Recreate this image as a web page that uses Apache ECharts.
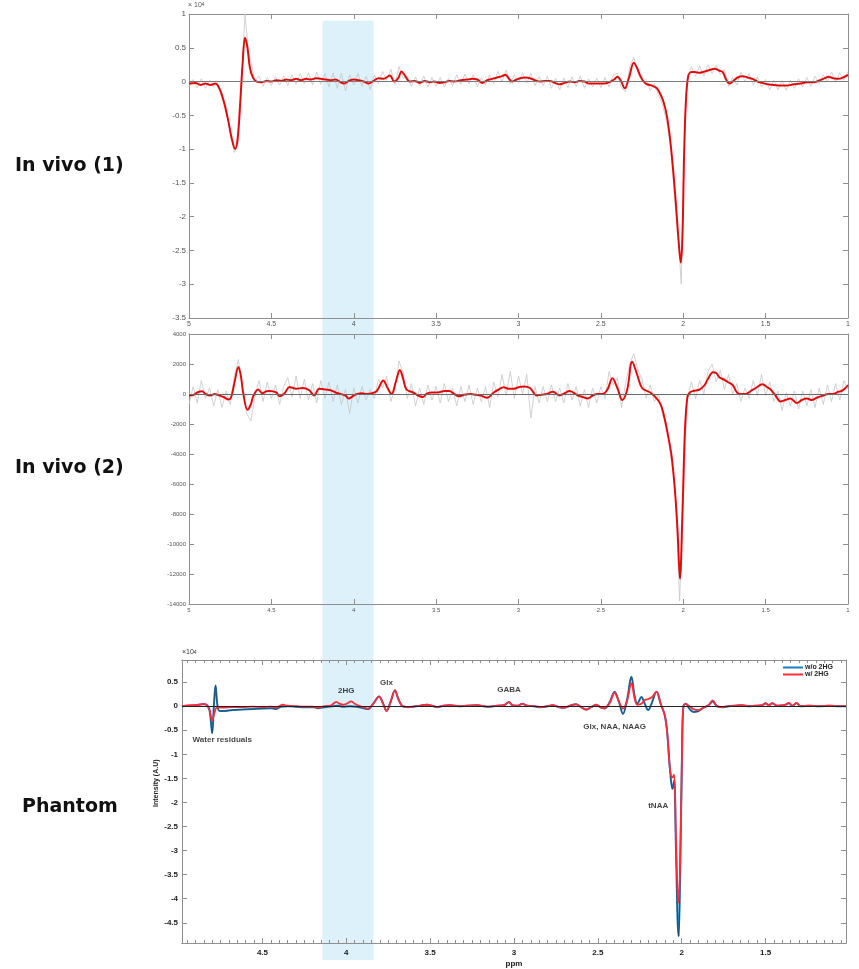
<!DOCTYPE html>
<html><head><meta charset="utf-8">
<script src="https://cdn.jsdelivr.net/npm/echarts@6/dist/echarts.min.js"></script>
<style>html,body{margin:0;padding:0;background:#fff}#c{width:859px;height:969px}</style>
</head><body><div id="c"></div>
<script>
// ---------------- DATA ----------------
const panelLabels = ['In vivo (1)', 'In vivo (2)', 'Phantom'];
const legendNames = ['w/o 2HG', 'w/ 2HG'];
const ppmTickLabels = [4.5, 4, 3.5, 3, 2.5, 2, 1.5];
const phantomYTicks = [0.5, 0, -0.5, -1, -1.5, -2, -2.5, -3, -3.5, -4, -4.5];
const bandPpm = [4.19, 3.88];   // shaded 2HG band (in top-panel ppm)

// In vivo (1), x10^4 : fitted (red) spectrum
const vivo1Fit = [[5.00,-0.03],[4.96,-0.02],[4.93,-0.05],[4.90,-0.03],[4.87,-0.05],[4.84,-0.03],[4.82,-0.08],[4.80,-0.2],[4.78,-0.38],[4.76,-0.6],[4.74,-0.85],[4.72,-1.0],[4.705,-0.85],[4.69,-0.35],[4.675,0.25],[4.66,0.65],[4.645,0.5],[4.63,0.2],[4.61,0.05],[4.59,0.0],[4.56,-0.01],[4.53,0.01],[4.50,0.0],[4.47,0.02],[4.44,0.01],[4.41,0.03],[4.38,0.02],[4.35,0.04],[4.32,0.02],[4.29,0.04],[4.26,0.03],[4.23,0.05],[4.20,0.04],[4.17,0.03],[4.14,0.02],[4.11,0.03],[4.08,-0.01],[4.06,-0.03],[4.03,0.01],[4.00,0.03],[3.97,0.02],[3.94,0.0],[3.91,-0.03],[3.88,0.01],[3.85,0.05],[3.82,0.04],[3.78,0.09],[3.755,0.0],[3.73,0.05],[3.71,0.15],[3.69,0.09],[3.66,0.0],[3.63,0.01],[3.60,-0.02],[3.57,0.01],[3.54,-0.01],[3.51,0.0],[3.48,-0.02],[3.45,-0.01],[3.42,0.01],[3.39,0.0],[3.35,0.02],[3.31,0.03],[3.28,0.04],[3.25,0.03],[3.22,-0.02],[3.19,0.02],[3.16,0.04],[3.13,0.06],[3.10,0.08],[3.08,0.1],[3.06,0.05],[3.04,0.0],[3.02,0.02],[2.99,0.05],[2.96,0.06],[2.93,0.05],[2.90,0.02],[2.87,0.0],[2.84,0.01],[2.81,0.01],[2.78,-0.02],[2.75,-0.04],[2.72,-0.02],[2.69,0.0],[2.66,-0.01],[2.63,0.01],[2.60,0.0],[2.57,-0.03],[2.54,-0.03],[2.51,-0.03],[2.48,-0.03],[2.45,-0.01],[2.42,0.03],[2.40,0.07],[2.38,0.02],[2.355,-0.1],[2.33,0.05],[2.30,0.28],[2.28,0.2],[2.26,0.08],[2.24,0.0],[2.22,-0.04],[2.19,-0.06],[2.16,-0.1],[2.14,-0.18],[2.12,-0.3],[2.10,-0.5],[2.08,-0.85],[2.06,-1.35],[2.045,-1.8],[2.03,-2.3],[2.015,-2.68],[2.005,-2.3],[1.995,-1.1],[1.985,-0.35],[1.97,0.08],[1.95,0.14],[1.93,0.14],[1.90,0.13],[1.87,0.15],[1.84,0.17],[1.81,0.19],[1.78,0.16],[1.76,0.14],[1.74,0.03],[1.72,-0.03],[1.70,0.0],[1.67,0.06],[1.64,0.08],[1.61,0.06],[1.58,0.04],[1.55,0.0],[1.52,-0.02],[1.49,-0.04],[1.45,-0.05],[1.41,-0.06],[1.37,-0.06],[1.33,-0.04],[1.29,-0.03],[1.25,-0.01],[1.21,-0.01],[1.17,0.02],[1.14,0.05],[1.12,0.07],[1.09,0.05],[1.06,0.04],[1.03,0.06],[1.00,0.1]];

// In vivo (1), x10^4 : raw (grey) spectrum
const vivo1Raw = [[5.000,-0.08],[4.975,0.03],[4.950,-0.09],[4.925,0.04],[4.900,-0.1],[4.875,0.02],[4.850,-0.08],[4.825,-0.02],[4.800,-0.25],[4.775,-0.35],[4.750,-0.75],[4.725,-1.05],[4.700,-0.9],[4.675,0.3],[4.660,1.0],[4.640,0.45],[4.625,0.3],[4.600,0.0],[4.575,0.08],[4.550,-0.07],[4.525,0.06],[4.500,-0.06],[4.475,0.07],[4.450,-0.05],[4.425,0.08],[4.400,-0.06],[4.375,0.1],[4.350,-0.04],[4.325,0.12],[4.300,-0.03],[4.275,0.13],[4.250,-0.05],[4.225,0.14],[4.200,-0.04],[4.175,0.12],[4.150,-0.08],[4.125,0.13],[4.100,-0.1],[4.075,0.12],[4.050,-0.14],[4.025,0.1],[4.000,-0.05],[3.975,0.12],[3.950,-0.07],[3.925,0.08],[3.900,-0.12],[3.875,0.1],[3.850,-0.03],[3.825,0.15],[3.800,0.02],[3.775,0.18],[3.750,-0.03],[3.725,0.22],[3.700,0.05],[3.675,0.08],[3.650,-0.07],[3.625,0.07],[3.600,-0.06],[3.575,0.08],[3.550,-0.08],[3.525,0.06],[3.500,-0.07],[3.475,0.06],[3.450,-0.08],[3.425,0.05],[3.400,-0.06],[3.375,0.1],[3.350,-0.04],[3.325,0.11],[3.300,-0.03],[3.275,0.1],[3.250,-0.08],[3.225,0.06],[3.200,-0.05],[3.175,0.1],[3.150,-0.03],[3.125,0.15],[3.100,0.0],[3.075,0.17],[3.050,-0.03],[3.025,0.1],[3.000,-0.02],[2.975,0.13],[2.950,-0.02],[2.925,0.12],[2.900,-0.06],[2.875,0.07],[2.850,-0.06],[2.825,0.08],[2.800,-0.1],[2.775,0.05],[2.750,-0.12],[2.725,0.05],[2.700,-0.09],[2.675,0.07],[2.650,-0.07],[2.625,0.08],[2.600,-0.1],[2.575,0.04],[2.550,-0.08],[2.525,0.05],[2.500,-0.09],[2.475,0.06],[2.450,-0.08],[2.425,0.1],[2.400,0.12],[2.375,-0.1],[2.350,-0.15],[2.325,0.22],[2.300,0.36],[2.275,0.13],[2.250,0.0],[2.225,0.03],[2.200,-0.13],[2.175,-0.03],[2.150,-0.2],[2.125,-0.35],[2.100,-0.6],[2.075,-1.0],[2.050,-1.8],[2.025,-2.5],[2.012,-3.0],[2.000,-1.6],[1.985,-0.4],[1.975,0.05],[1.950,0.22],[1.925,0.08],[1.900,0.23],[1.875,0.08],[1.850,0.25],[1.825,0.12],[1.800,0.24],[1.775,0.1],[1.750,0.18],[1.725,-0.07],[1.700,0.06],[1.675,-0.05],[1.650,0.14],[1.625,0.0],[1.600,0.12],[1.575,-0.05],[1.550,0.07],[1.525,-0.08],[1.500,0.03],[1.475,-0.12],[1.450,0.02],[1.425,-0.12],[1.400,0.01],[1.375,-0.13],[1.350,0.02],[1.325,-0.1],[1.300,0.04],[1.275,-0.08],[1.250,0.06],[1.225,-0.07],[1.200,0.08],[1.175,-0.03],[1.150,0.1],[1.125,0.0],[1.100,0.14],[1.075,-0.01],[1.050,0.13],[1.025,0.02],[1.000,0.15]];

// In vivo (2) : fitted (red) spectrum
const vivo2Fit = [[5.00,-100],[4.97,-50],[4.95,100],[4.92,180],[4.90,0],[4.87,-100],[4.845,0],[4.82,-80],[4.79,-200],[4.76,-370],[4.745,-250],[4.725,700],[4.70,1800],[4.685,1200],[4.67,0],[4.645,-1050],[4.625,-700],[4.61,-150],[4.58,300],[4.555,50],[4.53,180],[4.51,200],[4.47,100],[4.45,-150],[4.42,50],[4.39,470],[4.35,350],[4.31,400],[4.27,250],[4.24,-100],[4.21,350],[4.17,300],[4.14,250],[4.11,100],[4.08,0],[4.05,-100],[4.03,-300],[4.00,-100],[3.98,0],[3.95,50],[3.92,0],[3.89,50],[3.86,200],[3.82,900],[3.795,400],[3.77,0],[3.745,800],[3.72,1600],[3.70,1000],[3.68,300],[3.64,100],[3.61,-100],[3.58,-200],[3.56,0],[3.53,100],[3.49,100],[3.45,200],[3.42,200],[3.39,0],[3.36,-150],[3.33,-50],[3.29,0],[3.26,-50],[3.23,-100],[3.19,-250],[3.15,100],[3.12,300],[3.09,450],[3.06,350],[3.03,350],[3.00,450],[2.97,500],[2.93,400],[2.89,-100],[2.86,-50],[2.83,0],[2.79,150],[2.75,-100],[2.72,50],[2.69,200],[2.64,-100],[2.61,-200],[2.58,-300],[2.55,-100],[2.52,0],[2.49,0],[2.46,300],[2.43,1050],[2.40,400],[2.37,-400],[2.34,300],[2.31,2150],[2.28,1300],[2.25,400],[2.20,100],[2.17,-200],[2.15,-450],[2.13,-900],[2.11,-1800],[2.09,-2900],[2.07,-4200],[2.05,-6500],[2.035,-9000],[2.02,-12300],[2.005,-8000],[1.99,-2500],[1.975,-200],[1.96,100],[1.94,200],[1.90,300],[1.87,600],[1.85,1000],[1.82,1450],[1.80,1400],[1.78,1100],[1.76,1000],[1.73,800],[1.70,600],[1.68,200],[1.66,0],[1.62,0],[1.59,200],[1.56,400],[1.52,650],[1.49,450],[1.47,300],[1.44,-100],[1.41,-500],[1.38,-400],[1.35,-300],[1.31,-600],[1.28,-400],[1.25,-300],[1.22,-400],[1.19,-250],[1.15,-100],[1.12,0],[1.09,0],[1.06,150],[1.04,200],[1.02,350],[1.00,600]];

// In vivo (2) : raw (grey) spectrum
const vivo2Raw = [[5.000,-700],[4.975,500],[4.950,-600],[4.925,900],[4.900,-300],[4.875,400],[4.850,-800],[4.825,300],[4.800,-900],[4.775,200],[4.750,-700],[4.725,1200],[4.700,2300],[4.675,400],[4.650,-1300],[4.625,-1800],[4.600,-200],[4.575,900],[4.550,-500],[4.525,800],[4.500,-300],[4.475,600],[4.450,-700],[4.425,500],[4.400,1100],[4.375,-200],[4.350,1200],[4.325,-300],[4.300,1000],[4.275,-400],[4.250,700],[4.225,-600],[4.200,900],[4.175,-300],[4.150,800],[4.125,-500],[4.100,600],[4.075,-700],[4.050,300],[4.025,-1300],[4.000,400],[3.975,-600],[3.950,500],[3.925,-400],[3.900,300],[3.875,-300],[3.850,1000],[3.825,400],[3.800,1200],[3.775,-500],[3.750,300],[3.725,2200],[3.700,1400],[3.675,-300],[3.650,700],[3.625,-800],[3.600,400],[3.575,-700],[3.550,600],[3.525,-400],[3.500,500],[3.475,-600],[3.450,700],[3.425,-500],[3.400,400],[3.375,-800],[3.350,500],[3.325,-500],[3.300,600],[3.275,-700],[3.250,400],[3.225,-500],[3.200,500],[3.175,-900],[3.150,800],[3.125,-200],[3.100,1300],[3.075,-100],[3.050,1500],[3.025,-300],[3.000,1200],[2.975,0],[2.950,1300],[2.925,-1600],[2.900,500],[2.875,-600],[2.850,500],[2.825,-500],[2.800,600],[2.775,-500],[2.750,400],[2.725,-600],[2.700,700],[2.675,-400],[2.650,500],[2.625,-800],[2.600,300],[2.575,-900],[2.550,400],[2.525,-600],[2.500,500],[2.475,-300],[2.450,1500],[2.425,600],[2.400,1100],[2.375,-900],[2.350,700],[2.325,2000],[2.300,2700],[2.275,1600],[2.250,1000],[2.225,-300],[2.200,600],[2.175,-500],[2.150,0],[2.125,-1400],[2.100,-2000],[2.075,-4300],[2.050,-6000],[2.022,-13800],[2.000,-7000],[1.975,-300],[1.950,800],[1.925,-300],[1.900,900],[1.875,0],[1.850,1500],[1.825,2000],[1.800,800],[1.775,1600],[1.750,300],[1.725,1300],[1.700,0],[1.675,700],[1.650,-500],[1.625,400],[1.600,-300],[1.575,900],[1.550,-100],[1.525,1300],[1.500,-100],[1.475,800],[1.450,-500],[1.425,200],[1.400,-1100],[1.375,100],[1.350,-800],[1.325,200],[1.300,-1000],[1.275,200],[1.250,-800],[1.225,300],[1.200,-900],[1.175,400],[1.150,-700],[1.125,600],[1.100,-500],[1.075,700],[1.050,-400],[1.025,900],[1.000,300]];

// Phantom, x10^4 : without 2HG (blue)
const phantomWo = [[4.98,0.0],[4.93,0.01],[4.88,0.03],[4.85,0.04],[4.83,0.02],[4.815,-0.1],[4.80,-0.56],[4.79,0.0],[4.78,0.43],[4.768,0.0],[4.755,-0.1],[4.73,-0.1],[4.68,-0.08],[4.62,-0.07],[4.56,-0.06],[4.50,-0.05],[4.45,-0.04],[4.42,-0.06],[4.39,-0.01],[4.35,0.0],[4.30,-0.01],[4.25,-0.02],[4.20,-0.02],[4.17,-0.04],[4.13,-0.02],[4.08,0.0],[4.05,0.01],[4.02,-0.01],[3.98,0.0],[3.94,-0.01],[3.90,-0.04],[3.87,-0.06],[3.84,0.05],[3.805,0.2],[3.78,0.05],[3.76,-0.1],[3.735,0.1],[3.71,0.33],[3.69,0.15],[3.665,0.0],[3.63,-0.02],[3.60,-0.01],[3.56,0.01],[3.52,0.03],[3.48,0.0],[3.46,-0.02],[3.42,0.01],[3.38,0.02],[3.33,0.0],[3.28,0.01],[3.22,0.02],[3.16,-0.01],[3.10,0.01],[3.06,0.02],[3.03,0.08],[3.01,0.02],[2.98,0.01],[2.95,0.05],[2.92,0.01],[2.88,0.0],[2.84,-0.02],[2.80,0.0],[2.77,0.02],[2.73,-0.02],[2.70,-0.03],[2.66,0.02],[2.63,0.04],[2.60,-0.02],[2.57,-0.07],[2.54,-0.02],[2.51,0.03],[2.48,-0.03],[2.46,-0.05],[2.43,0.08],[2.40,0.3],[2.375,0.1],[2.35,-0.16],[2.325,0.15],[2.30,0.61],[2.28,0.2],[2.265,0.05],[2.24,0.19],[2.22,0.05],[2.20,-0.08],[2.18,0.05],[2.15,0.3],[2.125,0.05],[2.10,-0.2],[2.085,-0.6],[2.07,-1.3],[2.055,-1.72],[2.045,-1.55],[2.035,-2.8],[2.025,-4.4],[2.018,-4.78],[2.008,-3.2],[1.998,-1.0],[1.99,0.0],[1.975,0.05],[1.955,-0.05],[1.93,-0.12],[1.90,-0.1],[1.87,-0.03],[1.84,0.02],[1.815,0.1],[1.79,0.0],[1.76,-0.02],[1.72,0.0],[1.68,0.01],[1.64,0.02],[1.60,0.0],[1.56,0.01],[1.52,0.02],[1.50,0.06],[1.48,0.02],[1.46,0.06],[1.43,0.01],[1.39,0.02],[1.36,0.06],[1.34,0.01],[1.315,0.06],[1.29,0.0],[1.24,0.01],[1.18,0.0],[1.12,0.01],[1.06,0.0],[1.02,0.0]];

// Phantom, x10^4 : with 2HG (red)
const phantomW = [[4.98,0.0],[4.93,0.02],[4.88,0.03],[4.85,0.05],[4.83,0.02],[4.815,-0.08],[4.80,-0.3],[4.785,-0.12],[4.77,-0.02],[4.74,-0.03],[4.68,-0.02],[4.62,-0.02],[4.56,-0.01],[4.50,-0.02],[4.45,-0.01],[4.42,-0.03],[4.38,0.03],[4.35,0.01],[4.30,0.0],[4.25,-0.01],[4.20,-0.01],[4.17,-0.03],[4.13,0.0],[4.09,0.02],[4.06,0.09],[4.04,0.05],[4.02,0.03],[4.00,0.05],[3.97,0.1],[3.95,0.05],[3.92,0.0],[3.89,-0.03],[3.87,-0.05],[3.84,0.05],[3.805,0.2],[3.78,0.05],[3.76,-0.1],[3.735,0.1],[3.71,0.33],[3.69,0.15],[3.665,0.0],[3.63,-0.02],[3.60,-0.01],[3.56,0.01],[3.52,0.03],[3.48,0.0],[3.46,-0.02],[3.42,0.01],[3.38,0.02],[3.33,0.0],[3.28,0.01],[3.22,0.02],[3.16,-0.01],[3.10,0.01],[3.06,0.02],[3.03,0.09],[3.01,0.02],[2.98,0.01],[2.95,0.05],[2.92,0.01],[2.88,0.0],[2.84,-0.02],[2.80,0.0],[2.77,0.02],[2.73,-0.02],[2.70,-0.03],[2.66,0.02],[2.63,0.04],[2.60,-0.02],[2.57,-0.07],[2.54,-0.02],[2.51,0.03],[2.48,-0.03],[2.46,-0.04],[2.43,0.06],[2.40,0.28],[2.375,0.1],[2.35,-0.05],[2.325,0.12],[2.30,0.48],[2.28,0.15],[2.265,0.03],[2.24,0.05],[2.22,0.13],[2.20,0.15],[2.18,0.18],[2.15,0.3],[2.125,0.05],[2.10,-0.2],[2.085,-0.6],[2.07,-1.3],[2.055,-1.48],[2.045,-1.42],[2.035,-2.6],[2.025,-3.8],[2.018,-4.08],[2.008,-3.0],[1.998,-1.0],[1.99,0.0],[1.975,0.05],[1.955,0.0],[1.93,-0.06],[1.90,-0.08],[1.87,-0.03],[1.84,0.02],[1.815,0.12],[1.79,0.0],[1.76,-0.02],[1.72,0.0],[1.68,0.01],[1.64,0.02],[1.60,0.0],[1.56,0.01],[1.52,0.02],[1.50,0.06],[1.48,0.02],[1.46,0.06],[1.43,0.01],[1.39,0.02],[1.36,0.07],[1.34,0.01],[1.315,0.07],[1.29,0.0],[1.24,0.01],[1.18,0.0],[1.12,0.01],[1.06,0.0],[1.02,0.0]];

// Phantom annotations: [ppm, value(x10^4), text]
const phantomNotes = [[4.74,-0.69,'Water residuals'],[4.00,0.33,'2HG'],[3.76,0.49,'Glx'],[3.03,0.35,'GABA'],[2.40,-0.43,'Glx, NAA, NAAG'],[2.14,-2.06,'tNAA']];
const phantomYName = ['Intensity (A.U)', -1.6];   // axis title and its centre value

// ---------------- CHART ----------------
const chart = echarts.init(document.getElementById('c'), null, {renderer: 'canvas'});
const AX = '#8f8f8f';
const FONT = 'Liberation Sans, Arial, sans-serif';

function boxX(grid, pos, min, max, opts) {
  return Object.assign({
    type: 'value', gridIndex: grid, position: pos, inverse: true, min: min, max: max,
    axisLine: {show: true, onZero: false, lineStyle: {color: AX, width: 1}},
    axisTick: {show: true, inside: true, length: 5, lineStyle: {color: AX}},
    axisLabel: {show: false},
    splitLine: {show: false}
  }, opts || {});
}
function boxY(grid, pos, min, max, opts) {
  return Object.assign({
    type: 'value', gridIndex: grid, position: pos, min: min, max: max,
    axisLine: {show: true, onZero: false, lineStyle: {color: AX, width: 1}},
    axisTick: {show: true, inside: true, length: 5, lineStyle: {color: AX}},
    axisLabel: {show: false},
    splitLine: {show: false}
  }, opts || {});
}
const minorPpm = [];
for (let v = 1.05; v < 4.98; v += 0.05) minorPpm.push(Math.round(v * 100) / 100);

const zeroLine = (color) => ({silent: true, symbol: 'none', label: {show: false},
  lineStyle: {color: color, width: 1, type: 'solid'}, data: [{yAxis: 0}]});
const plain = v => String(v);

const option = {
  animation: false,
  backgroundColor: '#fff',
  grid: [
    {left: 189, top: 14, width: 659, height: 304},
    {left: 189, top: 334, width: 659, height: 270},
    {left: 182, top: 660, width: 664, height: 288}
  ],
  xAxis: [
    boxX(0, 'bottom', 1, 5, {interval: 0.5, axisLabel: {show: true, formatter: plain, color: '#555', fontSize: 7, fontFamily: FONT, margin: 3}}),
    boxX(0, 'top', 1, 5, {interval: 0.5}),
    boxX(1, 'bottom', 1, 5, {interval: 0.5, axisLabel: {show: true, formatter: plain, color: '#555', fontSize: 6, fontFamily: FONT, margin: 3}}),
    boxX(1, 'top', 1, 5, {interval: 0.5}),
    boxX(2, 'bottom', 1.02, 4.98, {axisTick: {show: true, inside: true, length: 5, customValues: ppmTickLabels, lineStyle: {color: AX}},
      axisLabel: {show: true, customValues: ppmTickLabels, formatter: plain, color: '#222', fontSize: 8, fontWeight: 'bold', fontFamily: FONT, margin: 6},
      name: 'ppm', nameLocation: 'middle', nameGap: 17, nameTextStyle: {color: '#222', fontSize: 8, fontWeight: 'bold', fontFamily: FONT}}),
    boxX(2, 'bottom', 1.02, 4.98, {axisTick: {show: true, inside: true, length: 3, customValues: minorPpm, lineStyle: {color: AX}}}),
    boxX(2, 'top', 1.02, 4.98, {axisTick: {show: true, inside: true, length: 5, customValues: ppmTickLabels, lineStyle: {color: AX}}}),
    boxX(2, 'top', 1.02, 4.98, {axisTick: {show: true, inside: true, length: 3, customValues: minorPpm, lineStyle: {color: AX}}})
  ],
  yAxis: [
    boxY(0, 'left', -3.5, 1, {interval: 0.5, axisLabel: {show: true, formatter: plain, color: '#555', fontSize: 8, fontFamily: FONT, margin: 3}}),
    boxY(0, 'right', -3.5, 1, {interval: 0.5}),
    boxY(1, 'left', -14000, 4000, {interval: 2000, axisLabel: {show: true, formatter: plain, color: '#555', fontSize: 6, fontFamily: FONT, margin: 3}}),
    boxY(1, 'right', -14000, 4000, {interval: 2000}),
    boxY(2, 'left', -4.92, 0.96, {axisTick: {show: true, inside: true, length: 5, customValues: phantomYTicks, lineStyle: {color: AX}},
      axisLabel: {show: true, customValues: phantomYTicks, formatter: plain, color: '#222', fontSize: 8, fontWeight: 'bold', fontFamily: FONT, margin: 4}}),
    boxY(2, 'right', -4.92, 0.96, {axisTick: {show: true, inside: true, length: 5, customValues: phantomYTicks, lineStyle: {color: AX}}})
  ],
  legend: {
    left: 778, top: 659, orient: 'vertical', itemWidth: 20, itemHeight: 2, itemGap: 0,
    icon: 'rect', data: legendNames, selectedMode: false,
    textStyle: {fontSize: 7, fontWeight: 'bold', color: '#222', fontFamily: FONT, padding: [0, 0, 0, -3]}
  },
  series: [
    {name: 'raw1', type: 'line', xAxisIndex: 0, yAxisIndex: 0, data: vivo1Raw, symbol: 'none',
      lineStyle: {color: '#c6c6c6', width: 0.8}, z: 2, markLine: zeroLine('#7a7a7a')},
    {name: 'fit1', type: 'line', xAxisIndex: 0, yAxisIndex: 0, data: vivo1Fit, symbol: 'none', smooth: 0.35,
      lineStyle: {color: '#ff1010', width: 2}, z: 3},
    {name: 'fit1b', type: 'line', xAxisIndex: 0, yAxisIndex: 0, data: vivo1Fit, symbol: 'none', smooth: 0.35,
      lineStyle: {color: 'rgba(70,0,0,0.45)', width: 0.6}, z: 4},
    {name: 'raw2', type: 'line', xAxisIndex: 2, yAxisIndex: 2, data: vivo2Raw, symbol: 'none',
      lineStyle: {color: '#c6c6c6', width: 0.8}, z: 2, markLine: zeroLine('#6a6a6a')},
    {name: 'fit2', type: 'line', xAxisIndex: 2, yAxisIndex: 2, data: vivo2Fit, symbol: 'none', smooth: 0.35,
      lineStyle: {color: '#ff1010', width: 2}, z: 3},
    {name: 'fit2b', type: 'line', xAxisIndex: 2, yAxisIndex: 2, data: vivo2Fit, symbol: 'none', smooth: 0.35,
      lineStyle: {color: 'rgba(70,0,0,0.45)', width: 0.6}, z: 4},
    {name: legendNames[0], type: 'line', xAxisIndex: 4, yAxisIndex: 4, data: phantomWo, symbol: 'none', smooth: 0.35,
      color: '#1a7fc4', lineStyle: {color: '#1a7fc4', width: 2}, z: 3, markLine: zeroLine('#222')},
    {name: 'woDark', type: 'line', xAxisIndex: 4, yAxisIndex: 4, data: phantomWo, symbol: 'none', smooth: 0.35,
      lineStyle: {color: 'rgba(40,40,40,0.7)', width: 0.8}, z: 3.5},
    {name: legendNames[1], type: 'line', xAxisIndex: 4, yAxisIndex: 4, data: phantomW, symbol: 'none', smooth: 0.35,
      color: '#ff2b3a', lineStyle: {color: '#ff2b3a', width: 1.8}, z: 4},
    {name: 'notes', type: 'scatter', xAxisIndex: 4, yAxisIndex: 4, data: phantomNotes, symbolSize: 1, silent: true,
      itemStyle: {color: 'rgba(0,0,0,0)'}, z: 6,
      label: {show: true, position: 'inside', formatter: p => p.value[2], color: '#111', fontSize: 8, fontWeight: 'bold', fontFamily: FONT}}
  ]
};
chart.setOption(option);

// shaded band spanning all panels + text
const bx1 = chart.convertToPixel({xAxisIndex: 0}, bandPpm[0]);
const bx2 = chart.convertToPixel({xAxisIndex: 0}, bandPpm[1]);
const byTop = chart.convertToPixel({yAxisIndex: 0}, 0.9);
const nameY = chart.convertToPixel({yAxisIndex: 4}, phantomYName[1]);
const LF = '"DejaVu Sans", "Noto Sans", sans-serif';
chart.setOption({
  graphic: [
    {type: 'rect', z: -10, silent: true, shape: {x: bx1, y: byTop, width: bx2 - bx1, height: 960 - byTop}, style: {fill: '#dcf1fa'}},
    {type: 'text', left: 15, top: 157, style: {text: panelLabels[0], font: 'bold 19px ' + LF, fill: '#111'}},
    {type: 'text', left: 15, top: 459, style: {text: panelLabels[1], font: 'bold 19px ' + LF, fill: '#111'}},
    {type: 'text', left: 22, top: 798, style: {text: panelLabels[2], font: 'bold 19px ' + LF, fill: '#111'}},
    {type: 'text', x: 156, y: nameY, rotation: Math.PI / 2, style: {text: phantomYName[0], font: 'bold 7px ' + FONT, fill: '#222', align: 'center', verticalAlign: 'middle'}},
    {type: 'text', left: 188, top: 2, style: {text: '× 10{s|4}', rich: {s: {fontSize: 5, verticalAlign: 'top', fill: '#555'}}, font: '7px ' + FONT, fill: '#555'}},
    {type: 'text', left: 182, top: 649, style: {text: '×10{s|4}', rich: {s: {fontSize: 5, fill: '#333'}}, font: '7px ' + FONT, fill: '#333'}}
  ]
});
</script>
</body></html>
